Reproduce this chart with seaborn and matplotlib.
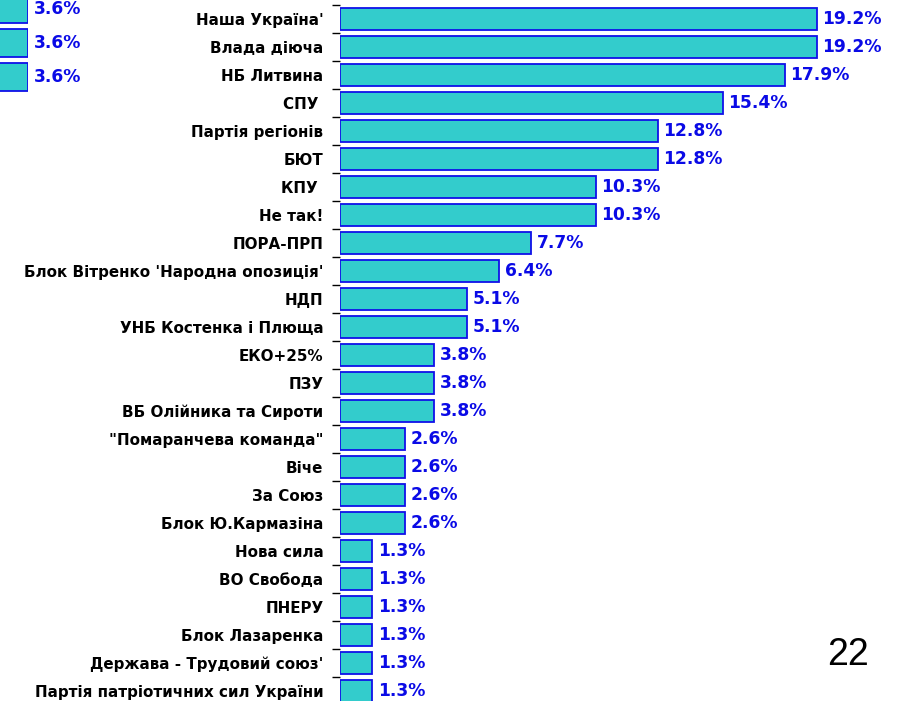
import matplotlib
matplotlib.use("Agg")
import matplotlib.pyplot as plt
import seaborn as sns
import pandas as pd
import numpy as np

sns.set_theme(style="white")
plt.rcParams['font.family'] = ['DejaVu Sans']

# дані з діаграми
parties = [
    "Наша Україна'", "Влада діюча", "НБ Литвина", "СПУ ", "Партія регіонів",
    "БЮТ", "КПУ ", "Не так!", "ПОРА-ПРП", "Блок Вітренко 'Народна опозиція'",
    "НДП", "УНБ Костенка і Плюща", "ЕКО+25%", "ПЗУ", "ВБ Олійника та Сироти",
    "\"Помаранчева команда\"", "Віче", "За Союз", "Блок Ю.Кармазіна",
    "Нова сила", "ВО Свобода", "ПНЕРУ", "Блок Лазаренка",
    "Держава - Трудовий союз'", "Партія патріотичних сил України",
]
shares = [19.2, 19.2, 17.9, 15.4, 12.8, 12.8, 10.3, 10.3, 7.7, 6.4,
          5.1, 5.1, 3.8, 3.8, 3.8, 2.6, 2.6, 2.6, 2.6,
          1.3, 1.3, 1.3, 1.3, 1.3, 1.3]

# обрізаний фрагмент сусідньої діаграми зліва
frag_rows = ["1", "2", "3"]
frag_shares = [3.6, 3.6, 3.6]

BAR_COLOR = "#33CCCC"
EDGE_COLOR = "#1010E8"
LABEL_COLOR = "#0A0AE6"

df = pd.DataFrame({"party": parties, "share": shares})
df_frag = pd.DataFrame({"row": frag_rows, "share": frag_shares})

W, H = 901, 701
fig = plt.figure(figsize=(W / 100, H / 100), dpi=100)
fig.patch.set_facecolor("white")

# основна діаграма
ax = fig.add_axes([340 / W, -4 / H, 546 / W, 700 / H])
sns.barplot(data=df, y="party", x="share", orient="h", ax=ax,
            color=BAR_COLOR, edgecolor=EDGE_COLOR, linewidth=1.3,
            width=0.8, saturation=1)
ax.set_xlim(0, 546 / 24.84)
ax.set_ylim(len(parties) - 0.5, -0.5)
ax.set_xlabel("")
ax.set_ylabel("")
ax.set_xticks([])
for s in ax.spines.values():
    s.set_visible(False)
# риски між категоріями
ax.set_yticks(np.arange(-0.5, len(parties) + 0.5, 1.0), minor=True)
ax.tick_params(axis="y", which="major", length=0, pad=12)
ax.tick_params(axis="y", which="minor", length=6, width=1, color="black",
               direction="out", left=True)
for lbl in ax.get_yticklabels():
    lbl.set_fontweight("bold")
    lbl.set_fontsize(10.9)
    lbl.set_color("black")
for cont in ax.containers:
    ax.bar_label(cont, labels=[f"{v:.1f}%" for v in shares], padding=4,
                 color=LABEL_COLOR, fontweight="bold", fontsize=12.3)

# фрагмент зліва
ax2 = fig.add_axes([-61 / W, 1 - 94 / H, 89 / W, 102 / H])
sns.barplot(data=df_frag, y="row", x="share", orient="h", ax=ax2,
            color=BAR_COLOR, edgecolor=EDGE_COLOR, linewidth=1.3,
            width=0.82, saturation=1)
ax2.set_xlim(0, 3.6)
ax2.set_ylim(len(frag_rows) - 0.5, -0.5)
ax2.axis("off")
for cont in ax2.containers:
    ax2.bar_label(cont, labels=[f"{v:.1f}%" for v in frag_shares], padding=4,
                  color=LABEL_COLOR, fontweight="bold", fontsize=12.3)

# номер слайда
fig.text(848 / W, 1 - 655 / H, "22", fontsize=27, ha="center", va="center",
         family=["Liberation Sans", "DejaVu Sans"], color="black")

fig.savefig("out.png", dpi=100, facecolor="white")
